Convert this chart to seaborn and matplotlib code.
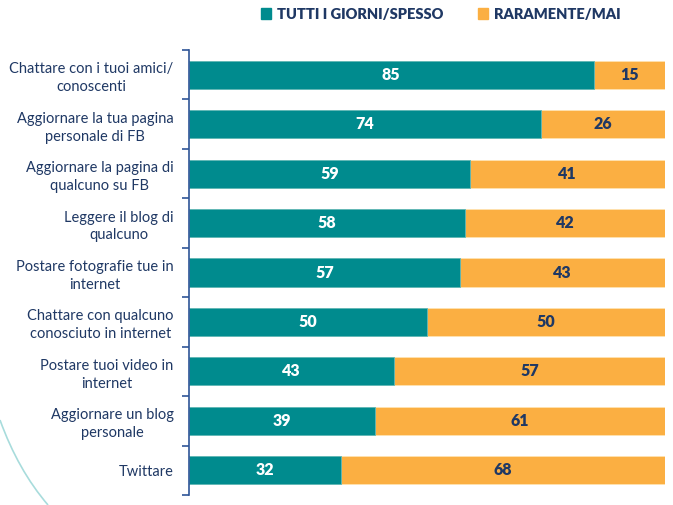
import matplotlib
matplotlib.use("Agg")
import matplotlib.pyplot as plt
import seaborn as sns
import pandas as pd
import numpy as np
from matplotlib.path import Path
from matplotlib.patches import PathPatch, Rectangle

categories = [
    "Chattare con i tuoi amici/\nconoscenti",
    "Aggiornare la tua pagina\npersonale di FB",
    "Aggiornare la pagina di\nqualcuno su FB",
    "Leggere il blog di\nqualcuno",
    "Postare fotografie tue in\ninternet",
    "Chattare con qualcuno\nconosciuto in internet",
    "Postare tuoi video in\ninternet",
    "Aggiornare un blog\npersonale",
    "Twittare",
]
spesso = [85, 74, 59, 58, 57, 50, 43, 39, 32]
raramente = [15, 26, 41, 42, 43, 50, 57, 61, 68]
series_names = ["TUTTI I GIORNI/SPESSO", "RARAMENTE/MAI"]

TEAL = "#008B8E"
ORANGE = "#FBAF42"
NAVY = "#1F3864"

sns.set_theme(style="white")
plt.rcParams["font.family"] = ["Lato", "DejaVu Sans"]

df = pd.DataFrame({"cat": categories, "spesso": spesso, "raramente": raramente})
df["total"] = df["spesso"] + df["raramente"]

fig = plt.figure(figsize=(6.73, 5.05), dpi=100)
ax = fig.add_axes([189/673, 1-495/505, (665-189)/673, (495-50)/505])

sns.barplot(data=df, x="total", y="cat", orient="h", color=ORANGE, saturation=1,
            width=0.57, ax=ax, edgecolor="#FFE3B0", linewidth=0.6)
sns.barplot(data=df, x="spesso", y="cat", orient="h", color=TEAL, saturation=1,
            width=0.57, ax=ax, edgecolor="#5FB9BB", linewidth=0.6)

for i, (a, b) in enumerate(zip(spesso, raramente)):
    ax.text(a/2, i, str(a), ha="center", va="center", color="white",
            fontsize=11.5, fontweight="heavy")
    ax.text(a + b/2, i, str(b), ha="center", va="center", color=NAVY,
            fontsize=11.5, fontweight="heavy")

ax.set_xlim(0, 100)
ax.set_ylim(len(categories)-0.5, -0.5)
ax.set_xlabel("")
ax.set_ylabel("")
ax.set_xticks([])
for s in ["top", "right", "bottom"]:
    ax.spines[s].set_visible(False)
ax.spines["left"].set_color("#2F5597")
ax.spines["left"].set_linewidth(1.2)

ax.tick_params(axis="y", which="major", left=False, length=0, pad=11,
               labelsize=10.5, labelcolor=NAVY)
ax.set_yticks(np.arange(-0.5, len(categories), 1.0), minor=True)
ax.tick_params(axis="y", which="minor", left=True, length=5, width=1.2,
               color="#2F5597", direction="out")
for lab in ax.get_yticklabels():
    lab.set_multialignment("center")
    lab.set_linespacing(1.35)

# legend
handles = [Rectangle((0, 0), 1, 1, color=TEAL), Rectangle((0, 0), 1, 1, color=ORANGE)]
fig.legend(handles, series_names, loc="center", bbox_to_anchor=(0.655, 0.972),
           ncol=2, frameon=False, handlelength=0.7, handleheight=0.7,
           handletextpad=0.4, columnspacing=2.4,
           prop={"weight": "heavy", "size": 10.5, "family": ["Lato", "DejaVu Sans"]},
           labelcolor=NAVY)

# decorative arc
verts = [(0, 505-420), (18, 505-470), (48, 0)]
verts = [(x/673, y/505) for x, y in verts]
path = Path(verts, [Path.MOVETO, Path.CURVE3, Path.CURVE3])
fig.add_artist(PathPatch(path, transform=fig.transFigure, fill=False,
                         edgecolor="#A8DCDC", linewidth=1.2))

fig.savefig("out.png", dpi=100)
